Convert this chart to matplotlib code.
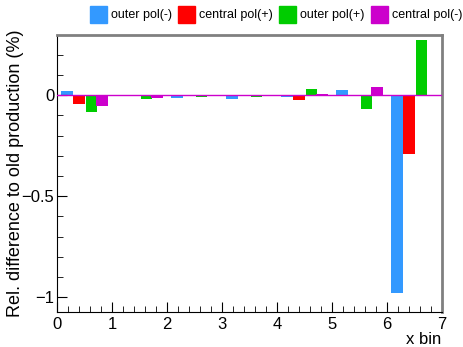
import numpy as np
import matplotlib
matplotlib.use("Agg")
import matplotlib.pyplot as plt
from matplotlib.ticker import MultipleLocator
from matplotlib.patches import Patch

plt.rcParams["font.family"] = ["Liberation Sans", "DejaVu Sans"]

bins = np.arange(7)
series = ["outer pol(-)", "central pol(+)", "outer pol(+)", "central pol(-)"]
colors = ["#3399ff", "#ff0000", "#00cc00", "#cc00cc"]
outer_minus = [0.020, 0.0, -0.013, -0.020, -0.008, 0.025, -0.977]
central_plus = [-0.043, 0.0, 0.0, 0.0, -0.025, 0.0, -0.290]
outer_plus = [-0.082, -0.018, -0.008, -0.008, 0.030, -0.069, 0.272]
central_minus = [-0.053, -0.013, 0.0, 0.0, 0.007, 0.040, 0.0]
values = [outer_minus, central_plus, outer_plus, central_minus]
offsets = [0.07, 0.29, 0.52, 0.71]
width = 0.215

fig = plt.figure(figsize=(4.64, 3.47), dpi=100)
ax = fig.add_axes([57 / 464, 1 - 311.7 / 347, 385 / 464, 276.7 / 347])

for vals, off, col in zip(values, offsets, colors):
    ax.bar(bins + off, vals, width=width, align="edge", color=col, linewidth=0)

ax.axhline(0, color="#cc00cc", lw=1, zorder=3)
ax.set_xlim(0, 7)
ax.set_ylim(-1.071, 0.297)

ax.xaxis.set_major_locator(MultipleLocator(1))
ax.xaxis.set_minor_locator(MultipleLocator(0.2))
ax.yaxis.set_major_locator(MultipleLocator(0.5))
ax.yaxis.set_minor_locator(MultipleLocator(0.1))
ax.tick_params(which="both", direction="in", top=False, right=False, labelsize=12)
ax.tick_params(which="major", length=7)
ax.tick_params(which="minor", length=4)
ax.tick_params(axis="y", pad=2)
ax.set_yticks([-1, -0.5, 0])
ax.set_yticklabels(["\u22121", "\u22120.5", "0"])

for side in ["top", "right"]:
    ax.spines[side].set_color("#808080")
    ax.spines[side].set_linewidth(2)

ax.set_ylabel("Rel. difference to old production (%)", fontsize=13)
ax.yaxis.set_label_coords(-0.085, 0.5)
fig.text(441 / 464, 1 - 344 / 347, "x bin", ha="right", va="baseline", fontsize=12)

handles = [Patch(color=c) for c in colors]
fig.legend(handles, series, loc="upper right", bbox_to_anchor=(462 / 464, 1 - 6 / 347),
           ncol=4, frameon=False, fontsize=9.0, handlelength=1.36, handleheight=1.68,
           handletextpad=0.32, columnspacing=0.5, borderpad=0, borderaxespad=0)

fig.savefig("out.png", dpi=100)
